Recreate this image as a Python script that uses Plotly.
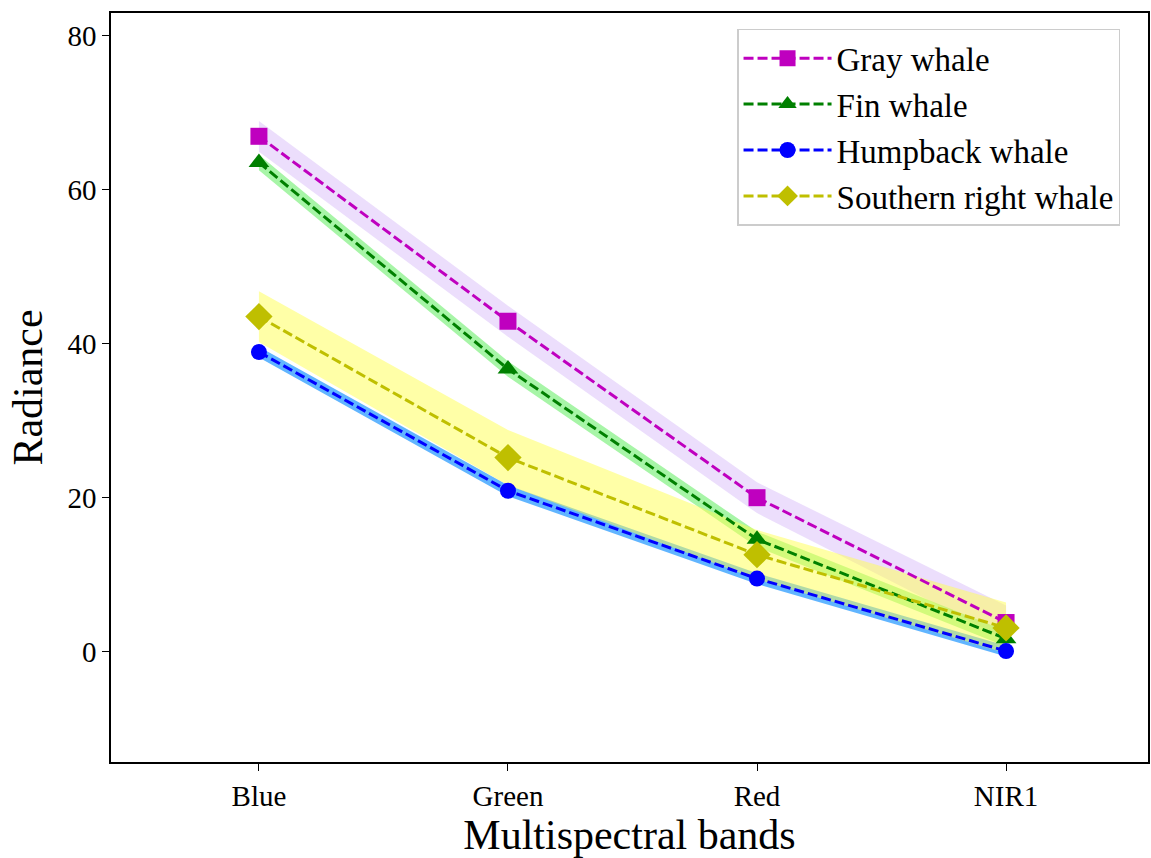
import plotly.graph_objects as go

bands = ["Blue", "Green", "Red", "NIR1"]
gray_mean = [66.9, 42.9, 20.0, 3.8]
gray_std = [2.0, 2.0, 2.0, 2.2]
fin_mean = [63.5, 36.7, 14.6, 1.7]
fin_std = [1.0, 1.0, 1.0, 1.0]
hump_mean = [38.9, 20.9, 9.5, 0.1]
hump_std = [0.7, 0.7, 0.7, 0.7]
south_mean = [43.5, 25.2, 12.6, 3.1]
south_std = [3.3, 3.6, 3.2, 3.3]

series = [
    ("Gray whale", gray_mean, gray_std, "#BF00BF", "rgba(200,160,245,0.35)", "square", 17),
    ("Fin whale", fin_mean, fin_std, "#008000", "rgba(80,235,80,0.5)", "triangle-up", 18),
    ("Humpback whale", hump_mean, hump_std, "#0000FF", "rgba(30,150,255,0.7)", "circle", 16),
    ("Southern right whale", south_mean, south_std, "#BFBF00", "rgba(255,255,80,0.5)", "diamond", 21),
]

xi = list(range(len(bands)))
fig = go.Figure()
for name, m, s, c, fc, sym, sz in series:
    lo = [a - b for a, b in zip(m, s)]
    hi = [a + b for a, b in zip(m, s)]
    fig.add_trace(go.Scatter(x=xi, y=lo, mode="lines", line=dict(width=0), showlegend=False, hoverinfo="skip"))
    fig.add_trace(go.Scatter(x=xi, y=hi, mode="lines", line=dict(width=0), fill="tonexty", fillcolor=fc,
                             showlegend=False, hoverinfo="skip"))
for name, m, s, c, fc, sym, sz in series:
    fig.add_trace(go.Scatter(x=xi, y=m, mode="lines+markers", name=name,
                             line=dict(color=c, width=3, dash="10px,4px"),
                             marker=dict(symbol=sym, size=sz, color=c, line=dict(width=0))))

font = "Liberation Serif, DejaVu Serif, serif"
fig.update_layout(
    width=1151, height=858,
    margin=dict(l=111, r=3, t=13, b=96),
    paper_bgcolor="white", plot_bgcolor="white",
    font=dict(family=font, color="black"),
    legend=dict(x=0.6037, y=0.979, xanchor="left", yanchor="top", traceorder="normal",
                bordercolor="#CCCCCC", borderwidth=1.5, bgcolor="white",
                font=dict(size=33, family=font), itemwidth=88),
    showlegend=True,
)
fig.update_xaxes(range=[-0.594, 3.57], tickvals=xi, ticktext=bands, automargin=False,
                 showgrid=False, zeroline=False, showline=True, linecolor="black", linewidth=1.5,
                 mirror=True, ticks="outside", ticklen=7, tickcolor="black",
                 tickfont=dict(size=29, family=font),
                 title=dict(text="Multispectral bands", font=dict(size=42, family=font), standoff=2))
fig.update_yaxes(range=[-14.3, 82.9], tickvals=[0, 20, 40, 60, 80], automargin=False,
                 showgrid=False, zeroline=False, showline=True, linecolor="black", linewidth=1.5,
                 mirror=True, ticks="outside", ticklen=7, tickcolor="black",
                 tickfont=dict(size=29, family=font),
                 title=dict(text="Radiance", font=dict(size=42, family=font), standoff=12))
fig.write_html("out.html", config={"displayModeBar": False},
               post_script="document.body.style.margin='0';document.body.style.overflow='hidden';")
